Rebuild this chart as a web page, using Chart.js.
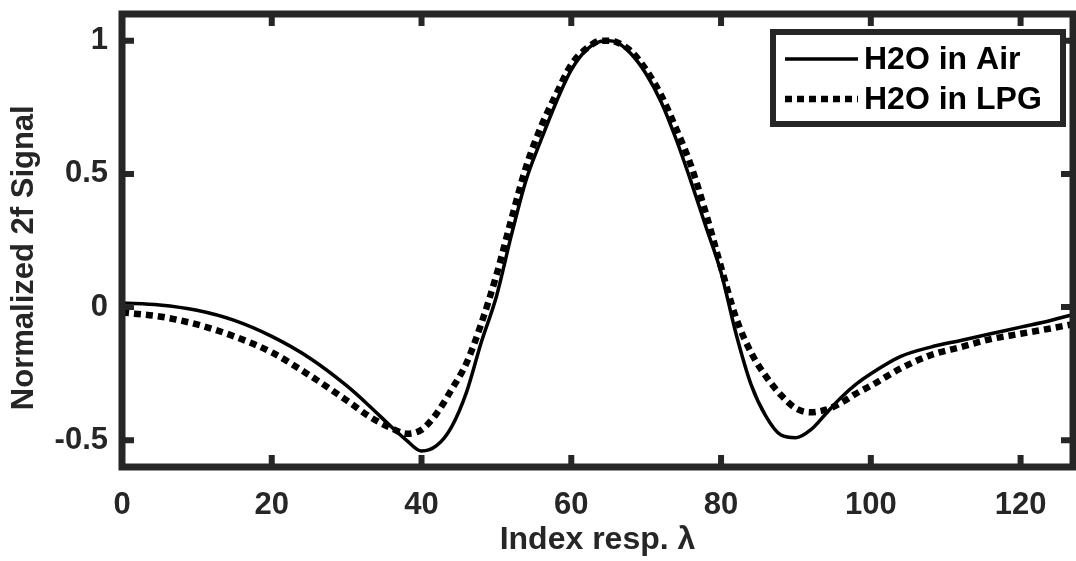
<!DOCTYPE html>
<html>
<head>
<meta charset="utf-8">
<script src="https://cdn.jsdelivr.net/npm/chart.js@4/dist/chart.umd.min.js"></script>
<style>
  html, body { margin: 0; padding: 0; background: #fff; }
  #wrap { width: 1076px; height: 561px; }
</style>
</head>
<body>
<div id="wrap"><canvas id="chart" width="1076" height="561"></canvas></div>
<script>
// Index positions (x) shared by both traces
const indexPos = [0, 5, 10, 15, 20, 25, 30, 33, 36, 38, 40, 42, 44, 46, 48, 50, 52, 54, 56, 58,
  60, 62, 64, 65, 66, 68, 70, 72, 74, 76, 78, 80, 82, 84, 86, 88, 90, 92, 94, 96, 98, 100,
  104, 108, 112, 116, 120, 124, 127];

// H2O in Air (solid)
const airSignal = [0.015, 0.008, -0.012, -0.05, -0.11, -0.19, -0.295, -0.37, -0.45, -0.50, -0.54, -0.52,
  -0.45, -0.32, -0.13, 0.04, 0.27, 0.48, 0.63, 0.77, 0.89, 0.965, 0.998, 1.0, 0.995, 0.95, 0.875,
  0.77, 0.63, 0.47, 0.30, 0.13, -0.10, -0.29, -0.41, -0.48, -0.49, -0.46, -0.40, -0.34, -0.29, -0.25,
  -0.185, -0.15, -0.125, -0.10, -0.075, -0.05, -0.028];

// H2O in LPG (dotted)
const lpgSignal = [-0.02, -0.035, -0.065, -0.11, -0.17, -0.255, -0.35, -0.41, -0.455, -0.475, -0.46, -0.40,
  -0.31, -0.21, -0.06, 0.12, 0.33, 0.53, 0.68, 0.80, 0.91, 0.97, 1.0, 1.0, 0.995, 0.96, 0.89,
  0.795, 0.67, 0.53, 0.35, 0.15, -0.04, -0.17, -0.26, -0.33, -0.38, -0.395, -0.385, -0.36, -0.325, -0.295,
  -0.23, -0.18, -0.15, -0.12, -0.10, -0.08, -0.064];

const xTicks = [0, 20, 40, 60, 80, 100, 120];
const yTicks = [-0.5, 0, 0.5, 1];

const ink = '#262626';
const fontFam = '"Liberation Sans", Arial, Helvetica, sans-serif';

// Box + inward ticks like MATLAB
const boxPlugin = {
  id: 'box',
  afterDatasetsDraw(chart) {
    const { ctx, chartArea: a, scales } = chart;
    ctx.save();
    ctx.strokeStyle = ink;
    ctx.lineWidth = 7;
    ctx.strokeRect(a.left, a.top, a.right - a.left, a.bottom - a.top);
    ctx.lineWidth = 6;
    ctx.beginPath();
    xTicks.forEach(v => {
      const px = scales.x.getPixelForValue(v);
      ctx.moveTo(px, a.bottom); ctx.lineTo(px, a.bottom - 12);
      ctx.moveTo(px, a.top); ctx.lineTo(px, a.top + 12);
    });
    yTicks.forEach(v => {
      const py = scales.y.getPixelForValue(v);
      ctx.moveTo(a.left, py); ctx.lineTo(a.left + 12, py);
      ctx.moveTo(a.right, py); ctx.lineTo(a.right - 12, py);
    });
    ctx.stroke();
    ctx.restore();
  }
};

// Legend box in the upper right corner
const legendPlugin = {
  id: 'boxLegend',
  afterDraw(chart) {
    const { ctx } = chart;
    const x0 = 773, y0 = 32, w = 290, h = 92;
    ctx.save();
    ctx.fillStyle = '#fff';
    ctx.fillRect(x0, y0, w, h);
    ctx.strokeStyle = ink;
    ctx.lineWidth = 6;
    ctx.strokeRect(x0, y0, w, h);
    chart.data.datasets.forEach((ds, i) => {
      const cy = y0 + 27 + i * 40;
      ctx.strokeStyle = '#000';
      ctx.lineWidth = ds.borderWidth;
      ctx.setLineDash(ds.borderDash || []);
      ctx.beginPath();
      ctx.moveTo(785, cy); ctx.lineTo(858, cy);
      ctx.stroke();
      ctx.setLineDash([]);
      ctx.fillStyle = '#000';
      ctx.font = 'bold 32px ' + fontFam;
      ctx.textBaseline = 'middle';
      ctx.fillText(ds.label, 864, cy + 1);
    });
    ctx.restore();
  }
};

new Chart(document.getElementById('chart'), {
  type: 'line',
  data: {
    datasets: [
      {
        label: 'H2O in Air',
        data: indexPos.map((x, i) => ({ x, y: airSignal[i] })),
        borderColor: '#000',
        borderWidth: 3.5,
        pointRadius: 0,
        cubicInterpolationMode: 'monotone'
      },
      {
        label: 'H2O in LPG',
        data: indexPos.map((x, i) => ({ x, y: lpgSignal[i] })),
        borderColor: '#000',
        borderWidth: 6.5,
        borderDash: [7, 5],
        borderCapStyle: 'butt',
        pointRadius: 0,
        cubicInterpolationMode: 'monotone'
      }
    ]
  },
  options: {
    responsive: false,
    animation: false,
    layout: { padding: { top: 14, right: 3, left: 0, bottom: 0 } },
    plugins: { legend: { display: false }, tooltip: { enabled: false } },
    scales: {
      x: {
        type: 'linear',
        min: 0,
        max: 127,
        afterBuildTicks: s => { s.ticks = xTicks.map(v => ({ value: v })); },
        afterFit: s => { s.height = 94; s.paddingLeft = 0; s.paddingRight = 0; },
        grid: { display: false, drawTicks: false },
        border: { display: false },
        ticks: { color: ink, padding: 20, font: { family: fontFam, size: 31, weight: 'bold' } },
        title: {
          display: true,
          text: 'Index resp. λ',
          color: ink,
          padding: { top: 0, bottom: 2 },
          font: { family: fontFam, size: 32, weight: 'bold' }
        }
      },
      y: {
        min: -0.6,
        max: 1.1,
        afterBuildTicks: s => { s.ticks = yTicks.map(v => ({ value: v })); },
        afterFit: s => { s.width = 122; s.paddingTop = 0; s.paddingBottom = 0; },
        grid: { display: false, drawTicks: false },
        border: { display: false },
        ticks: {
          color: ink,
          padding: 14,
          callback: v => String(v),
          font: { family: fontFam, size: 31, weight: 'bold' }
        },
        title: {
          display: true,
          text: 'Normalized 2f Signal    ',
          color: ink,
          padding: { top: 6, bottom: 0 },
          font: { family: fontFam, size: 31, weight: 'bold' }
        }
      }
    }
  },
  plugins: [boxPlugin, legendPlugin]
});
</script>
</body>
</html>
